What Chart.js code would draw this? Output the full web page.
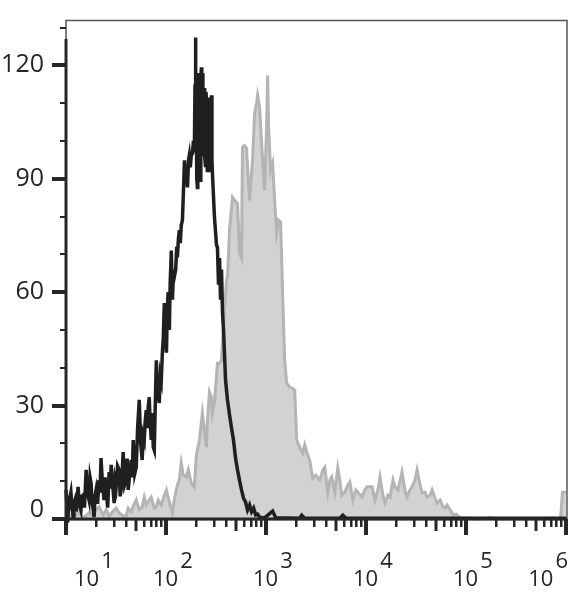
<!DOCTYPE html>
<html>
<head>
<meta charset="utf-8">
<script src="https://cdn.jsdelivr.net/npm/chart.js@4.4.1/dist/chart.umd.min.js"></script>
<style>
  html, body { margin: 0; padding: 0; background: #fff; }
  #wrap { width: 588px; height: 600px; }
</style>
</head>
<body>
<div id="wrap"><canvas id="hist"></canvas></div>
<script>
// control (unstained) histogram, black line
const controlX = [10, 10.3, 10.5, 10.8, 11.2, 11.5, 11.8, 12.0, 12.3, 12.7, 13.2, 13.6, 14.1, 14.4, 14.8, 15.3,
  15.9, 16.4, 17.0, 17.4, 17.8, 18.2, 18.7, 19.1, 19.5, 20.0, 20.7, 21.4, 21.9, 22.4, 23.2, 24.0,
  24.6, 25.2, 26.1, 27.0, 27.6, 28.3, 29.3, 30.3, 31.0, 31.7, 32.8, 34.0, 34.8, 35.6, 36.4, 37.3,
  38.6, 40.0, 40.9, 41.9, 43.4, 44.9, 46.0, 47.0, 48.7, 50.4, 52.0, 54.0, 55.8, 57.8, 59.2, 60.6,
  62.0, 63.5, 65.0, 66.4, 68.0, 69.6, 71.2, 72.9, 74.6, 76.3, 78.1, 80.0, 81.8, 83.7, 85.7, 87.7,
  89.7, 92.0, 94.0, 96.2, 98.5, 101, 103, 105, 108, 110, 113, 116, 119, 121, 125, 128,
  130, 133, 136, 139, 142, 146, 150, 153, 157, 160, 164, 168, 171, 175, 179, 184,
  188, 192, 195, 197, 199, 201, 203, 206, 208, 211, 213, 216, 218, 221, 223, 226,
  228, 231, 234, 237, 240, 242, 245, 248, 251, 254, 256, 259, 262, 266, 269, 272,
  275, 278, 281, 285, 288, 291, 305, 320, 327, 335, 343, 351, 359, 367, 376, 394,
  412, 432, 452, 473, 496, 519, 543, 569, 596, 624, 653, 685, 717, 752, 787, 824,
  863, 968, 1165, 1250, 2170, 2275, 2440, 5470, 5870, 6300, 1000000];
const controlCounts = [7.7, 2.0, 1.1, 5.0, 7.1, 3.0, 0.5, 4.0, 5.0, 2.0, 8.5, 4.0, 2.4, 6.0, 6.3, 3.0,
  13.0, 7.0, 5.0, 11.0, 9.5, 5.0, 2.4, 0.5, 6.0, 7.7, 4.0, 10.3, 7.0, 16.1, 9.0, 5.0,
  11.0, 7.7, 3.0, 12.4, 8.0, 14.3, 9.0, 4.2, 10.0, 8.5, 14.0, 13.0, 6.0, 7.7, 12.0, 17.7,
  9.0, 10.3, 16.0, 7.7, 12.0, 15.6, 11.0, 20.9, 12.0, 13.7, 24.0, 31.5, 20.0, 15.6, 22.0, 20.9,
  26.0, 28.8, 24.0, 29.6, 32.2, 25.0, 20.9, 28.0, 19.0, 18.2, 30.0, 42.0, 34.0, 32.8, 30.7, 38.0,
  36.7, 44.0, 48.0, 57.1, 48.0, 44.0, 55.0, 60.0, 50.0, 62.0, 71.0, 58.0, 66.0, 64.0, 66.0, 72.0,
  69.2, 74.0, 76.4, 73.0, 77.7, 79.0, 88.0, 94.9, 89.0, 91.4, 87.7, 95.0, 96.2, 93.0, 96.2, 96.7,
  100.0, 97.0, 115.0, 127.4, 100.0, 108.0, 90.0, 87.7, 112.0, 102.8, 118.0, 104.7, 95.0, 89.6, 116.0, 119.5,
  100.0, 117.9, 96.0, 106.0, 114.0, 110.7, 96.0, 93.5, 113.0, 110.7, 95.0, 92.2, 110.0, 108.1, 95.0, 111.5,
  98.0, 92.2, 108.0, 112.1, 95.0, 91.7, 80.0, 72.4, 71.9, 62.0, 69.0, 58.0, 66.0, 55.0, 50.0, 36.7,
  31.5, 27.5, 24.1, 20.9, 16.1, 13.0, 10.3, 7.7, 5.5, 4.5, 2.4, 3.7, 1.9, 2.9, 1.1, 1.3,
  0.5, 0.3, 2.1, 0.3, 0.2, 1.0, 0.2, 0.2, 1.0, 0.2, 0.2];

// stained sample histogram, grey filled
const stainedX = [10, 10.7, 11.8, 13.2, 14.8, 17.0, 18.7, 20.0, 21.4, 23.5, 25.2, 27.0, 30.3, 31.7, 34.0, 37.3,
  40.0, 41.9, 44.9, 47.0, 50.4, 54.0, 57.8, 60.6, 63.5, 68.0, 71.2, 76.3, 80.0, 83.7, 89.7, 96.2,
  101, 105, 110, 116, 121, 130, 136, 142, 149, 160, 167, 179, 192, 201, 216, 231,
  242, 254, 259, 272, 285, 291, 305, 327, 343, 359, 385, 403, 412, 432, 462, 484,
  519, 543, 569, 582, 610, 638, 685, 734, 769, 804, 824, 863, 925, 968, 1014, 1038,
  1062, 1112, 1165, 1220, 1277, 1337, 1400, 1466, 1537, 1610, 1725, 1850, 1936, 2028, 2170, 2328,
  2440, 2550, 2735, 2930, 3140, 3450, 3700, 3870, 4150, 4350, 4550, 4880, 5220, 5470, 5730, 6140,
  6580, 6890, 7390, 7920, 8300, 9100, 9750, 10200, 11500, 12300, 13150, 13800, 14760, 15500, 16600, 17400,
  18600, 19500, 20900, 22900, 24500, 25700, 27500, 28800, 30900, 32400, 34750, 36400, 39000, 40800, 43750, 45800,
  49100, 51400, 55100, 59000, 61800, 64700, 69300, 74500, 79800, 87500, 138700, 175000, 220000, 785000, 881000, 922000,
  1000000];
const stainedCounts = [0.3, 1.1, 0.3, 1.9, 0.3, 1.6, 0.8, 2.4, 3.2, 1.1, 2.4, 0.8, 2.4, 2.9, 1.6, 0.8,
  0.8, 2.9, 1.9, 3.4, 5.0, 2.4, 3.2, 5.8, 3.7, 5.0, 5.8, 2.9, 3.2, 5.0, 3.7, 6.3,
  7.7, 5.8, 3.7, 1.6, 5.0, 9.0, 10.3, 14.8, 11.6, 11.1, 13.0, 9.5, 8.5, 16.9, 20.9, 28.0,
  23.5, 19.0, 25.4, 33.6, 32.2, 28.0, 30.7, 41.2, 41.2, 42.0, 56.0, 63.2, 64.0, 76.4, 85.1, 84.3,
  83.5, 70.3, 69.0, 98.3, 98.8, 98.1, 84.3, 94.9, 107.3, 110.0, 112.1, 108.9, 94.9, 87.0, 103.6, 117.3,
  103.6, 92.2, 94.1, 84.3, 75.6, 79.0, 78.5, 59.7, 42.0, 35.9, 34.9, 34.6, 34.1, 20.9, 19.0, 17.4,
  19.6, 17.7, 15.6, 10.8, 11.6, 10.3, 13.0, 13.7, 6.9, 10.3, 11.1, 7.1, 13.5, 10.3, 6.3, 7.1,
  9.0, 9.8, 5.0, 7.7, 7.1, 5.8, 7.7, 8.5, 8.5, 5.0, 7.7, 11.1, 6.3, 4.2, 6.3, 5.8,
  10.3, 8.5, 7.7, 12.4, 7.7, 5.8, 7.7, 8.5, 10.3, 13.0, 9.0, 6.9, 7.1, 5.8, 6.3, 7.7,
  5.5, 4.2, 5.0, 3.2, 2.9, 3.7, 2.4, 1.1, 1.3, 0.3, 0, 0.3, 0, 0.2, 0, 7.1,
  7.1];

const yMajorTicks = [0, 30, 60, 90, 120];
const yMinorTicks = [10, 20, 40, 50, 70, 80, 100, 110, 130];
const xDecades = [1, 2, 3, 4, 5, 6];

function pairs(xs, ys) {
  return xs.map((x, i) => ({ x: x, y: ys[i] }));
}

const ink = '#262626';

// axes, ticks and 10^n labels drawn on top of the histograms
const flowAxes = {
  id: 'flowAxes',
  afterDraw(chart) {
    const ctx = chart.ctx;
    const xs = chart.scales.x, ys = chart.scales.y;
    const a = chart.chartArea;
    ctx.save();

    // thin frame
    ctx.strokeStyle = '#555';
    ctx.lineWidth = 1.5;
    ctx.strokeRect(a.left, a.top + 0.5, a.right - a.left + 1, a.bottom - a.top);

    // thick left & bottom axes
    ctx.strokeStyle = ink;
    ctx.lineWidth = 3;
    ctx.beginPath();
    ctx.moveTo(a.left, ys.getPixelForValue(127));
    ctx.lineTo(a.left, a.bottom);
    ctx.moveTo(a.left - 14, a.bottom);
    ctx.lineTo(a.right + 1, a.bottom);
    ctx.stroke();

    // y ticks
    ctx.fillStyle = ink;
    yMajorTicks.forEach(v => {
      const py = Math.round(ys.getPixelForValue(v));
      ctx.fillRect(a.left - 14, py - 2, 14, 4);
    });
    yMinorTicks.forEach(v => {
      const py = Math.round(ys.getPixelForValue(v));
      ctx.fillRect(a.left - 6, py - 1, 6, 2);
    });

    ctx.font = '25px "Open Sans"';
    ctx.textAlign = 'right';
    ctx.textBaseline = 'middle';
    yMajorTicks.forEach(v => {
      let py = ys.getPixelForValue(v);
      py = Math.min(py, a.bottom - 9);
      ctx.fillText(String(v), 44, py);
    });

    // x ticks
    for (let d = 1; d <= 6; d++) {
      const px = Math.round(xs.getPixelForValue(Math.pow(10, d)));
      ctx.fillRect(px - 2, a.bottom, 4, 16);
      if (d === 6) break;
      for (let m = 2; m <= 9; m++) {
        const p = Math.round(xs.getPixelForValue(m * Math.pow(10, d)));
        if (m === 5) ctx.fillRect(p - 1.5, a.bottom, 3, 12);
        else ctx.fillRect(p - 1, a.bottom, 2.5, 8);
      }
    }

    // x labels: 10 with raised exponent
    ctx.font = '22px "Open Sans"';
    ctx.textAlign = 'left';
    ctx.textBaseline = 'alphabetic';
    xDecades.forEach(e => {
      const px = xs.getPixelForValue(Math.pow(10, e));
      const wBase = ctx.measureText('10').width;
      const wExp = ctx.measureText(String(e)).width;
      const w = wBase + 2 + wExp;
      let left = Math.max(a.left + 8, px - 13);
      if (left + w > a.right + 2) left = a.right + 2 - w;
      ctx.fillText('10', left, 586);
      ctx.fillText(String(e), left + wBase + 2, 568);
    });

    ctx.restore();
  }
};

new Chart(document.getElementById('hist'), {
  type: 'line',
  data: {
    datasets: [
      {
        label: 'Control',
        data: pairs(controlX, controlCounts),
        borderColor: '#1f1f1f',
        borderWidth: 3.5,
        pointRadius: 0,
        fill: false,
        tension: 0,
        clip: 4,
        order: 1
      },
      {
        label: 'Stained',
        data: pairs(stainedX, stainedCounts),
        borderColor: '#b4b4b4',
        backgroundColor: '#d2d2d2',
        borderWidth: 3,
        pointRadius: 0,
        fill: 'origin',
        tension: 0,
        clip: 4,
        order: 2
      }
    ]
  },
  options: {
    responsive: true,
    maintainAspectRatio: false,
    animation: false,
    events: [],
    layout: { padding: { left: 66, right: 22, top: 20, bottom: 81 } },
    scales: {
      x: { type: 'logarithmic', min: 10, max: 1000000, display: false },
      y: { type: 'linear', min: 0, max: 132, display: false }
    },
    plugins: {
      legend: { display: false },
      tooltip: { enabled: false }
    }
  },
  plugins: [flowAxes]
});
</script>
</body>
</html>
